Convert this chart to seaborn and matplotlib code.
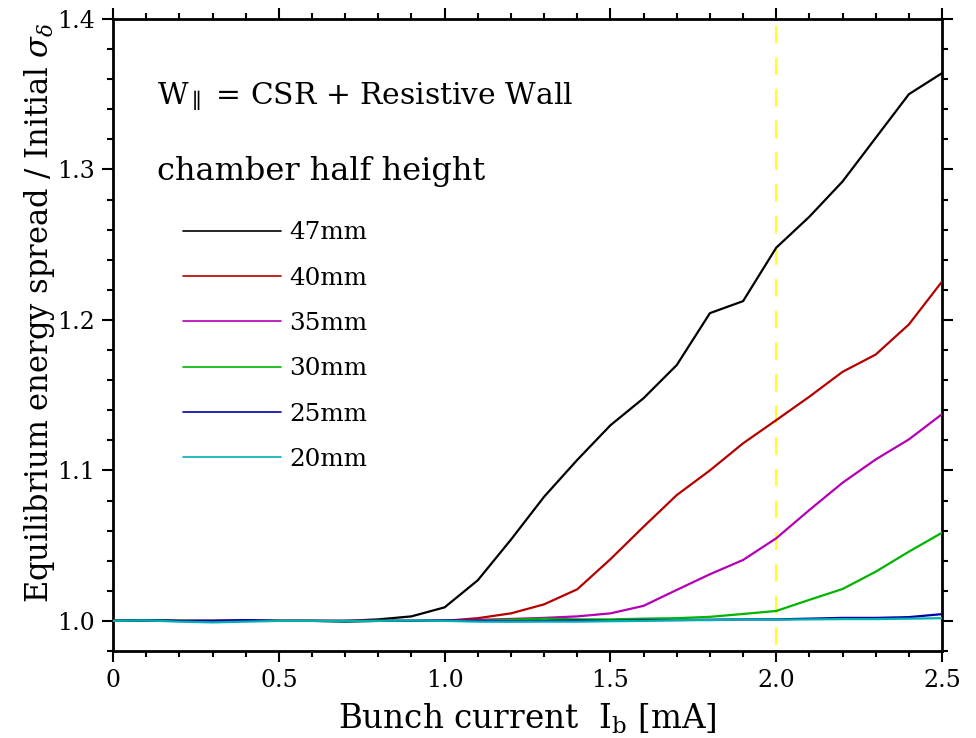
import numpy as np
import pandas as pd
import matplotlib
matplotlib.use("Agg")
import matplotlib.pyplot as plt
import seaborn as sns
from matplotlib.ticker import MultipleLocator

# ---- data ----
current = [0.0, 0.1, 0.2, 0.3, 0.4, 0.5, 0.6, 0.7, 0.8, 0.9, 1.0, 1.1, 1.2,
           1.3, 1.4, 1.5, 1.6, 1.7, 1.8, 1.9, 2.0, 2.1, 2.2, 2.3, 2.4, 2.5]
labels = ["47mm", "40mm", "35mm", "30mm", "25mm", "20mm"]
h47 = [1.000, 1.0005, 1.000, 1.000, 1.000, 1.000, 1.000, 1.000, 1.001, 1.003,
       1.009, 1.027, 1.054, 1.0825, 1.107, 1.130, 1.148, 1.170, 1.2045, 1.2125,
       1.248, 1.2686, 1.292, 1.321, 1.350, 1.364]
h40 = [1.000, 1.0005, 1.000, 1.000, 1.000, 1.000, 1.000, 1.000, 1.000, 1.000,
       1.000, 1.0018, 1.005, 1.011, 1.021, 1.041, 1.0626, 1.0836, 1.100, 1.118,
       1.1334, 1.149, 1.1655, 1.177, 1.197, 1.2255]
h35 = [1.000, 1.0005, 1.000, 1.000, 1.0005, 1.000, 1.000, 1.000, 1.000, 1.000,
       1.0002, 1.0007, 1.0013, 1.002, 1.003, 1.005, 1.010, 1.0206, 1.031, 1.0405,
       1.0549, 1.0737, 1.0918, 1.1073, 1.1206, 1.1374]
h30 = [1.000, 1.0005, 1.000, 1.000, 1.000, 1.000, 1.000, 0.9995, 1.000, 1.000,
       1.000, 1.000, 1.0008, 1.0015, 1.001, 1.001, 1.0015, 1.0018, 1.0027, 1.0046,
       1.0066, 1.014, 1.0212, 1.0327, 1.046, 1.0586]
h25 = [1.000, 1.0003, 1.000, 1.000, 1.0005, 1.000, 1.000, 0.9997, 1.000, 1.000,
       1.0003, 1.000, 0.9998, 1.000, 1.0003, 1.000, 1.0005, 1.0005, 1.0008, 1.001,
       1.001, 1.0015, 1.002, 1.002, 1.0025, 1.0045]
h20 = [1.000, 1.0003, 0.9995, 0.999, 0.9995, 1.000, 1.000, 1.000, 1.000, 1.0002,
       1.000, 0.9995, 0.9995, 0.9995, 0.9995, 0.9998, 1.000, 1.0005, 1.0005, 1.001,
       1.0008, 1.001, 1.0012, 1.0012, 1.0015, 1.0018]
colors = ["#000000", "#b40000", "#b400b4", "#00b400", "#0000a8", "#00b0b0"]
threshold_current = 2.0

series = [h47, h40, h35, h30, h25, h20]
df = pd.DataFrame({
    "current": np.tile(current, len(labels)),
    "spread": np.concatenate(series),
    "height": np.repeat(labels, len(current)),
})

sns.set_style("ticks")
plt.rcParams["font.family"] = ["DejaVu Serif"]
plt.rcParams["mathtext.fontset"] = "dejavuserif"
plt.rcParams["text.color"] = "black"
plt.rcParams["axes.labelcolor"] = "black"

fig = plt.figure(figsize=(9.76, 7.38), dpi=100)
ax = fig.add_axes([0.1158, 0.1179, 0.8494, 0.8564])

ax.axvline(threshold_current, ymin=0.01, ymax=0.995, color="#ffff30",
           lw=1.5, dashes=(8.5, 6.7), zorder=1)

sns.lineplot(data=df, x="current", y="spread", hue="height",
             hue_order=labels, palette=colors, linewidth=1.6,
             ax=ax, legend=True, zorder=3)

ax.set_xlim(0, 2.5)
ax.set_ylim(0.98, 1.4)
ax.xaxis.set_minor_locator(MultipleLocator(0.1))
ax.yaxis.set_minor_locator(MultipleLocator(0.02))
ax.set_xticks([0, 0.5, 1.0, 1.5, 2.0, 2.5])
ax.set_xticklabels(["0", "0.5", "1.0", "1.5", "2.0", "2.5"])
ax.set_yticks([1.0, 1.1, 1.2, 1.3, 1.4])
ax.set_yticklabels(["1.0", "1.1", "1.2", "1.3", "1.4"])
ax.tick_params(which="both", direction="out", top=True, right=True,
               width=1.5, labelsize=17, colors="black")
ax.tick_params(which="major", length=8, pad=5)
ax.tick_params(which="minor", length=4.5)
for s in ax.spines.values():
    s.set_linewidth(2)
    s.set_color("black")

ax.set_xlabel(r"Bunch current  I$_\mathrm{b}$ [mA]", fontsize=23.5)
ax.set_ylabel(r"Equilibrium energy spread / Initial $\sigma_\delta$",
              fontsize=22)
ax.xaxis.set_label_coords(0.5, -0.08)
ax.yaxis.set_label_coords(-0.068, 0.535)

ax.text(0.053, 0.877, r"W$_{\parallel}$ = CSR + Resistive Wall",
        transform=ax.transAxes, fontsize=21.4, va="center", ha="left")
ax.text(0.053, 0.758, "chamber half height",
        transform=ax.transAxes, fontsize=23, va="center", ha="left")

leg = ax.legend(loc="upper left", bbox_to_anchor=(0.0844, 0.68),
                frameon=False, fontsize=17.7, handlelength=4.0,
                handletextpad=0.33, labelspacing=0.91, borderpad=0,
                borderaxespad=0, title=None)
for line in leg.get_lines():
    line.set_linewidth(1.2)

fig.savefig("out.png", dpi=100)
